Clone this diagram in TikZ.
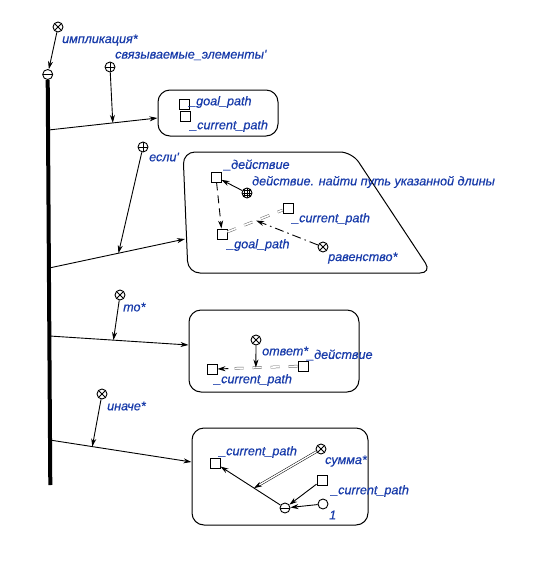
\documentclass[tikz,border=0pt]{standalone}
\usepackage{fontspec}
\setmainfont{Liberation Sans}
\newfontfamily\labelfont{Liberation Sans}[FakeBold=0.6]
\usetikzlibrary{arrows.meta,calc}
\definecolor{labelblue}{RGB}{25,60,170}
\definecolor{edgegray}{RGB}{100,100,100}
\begin{document}
\begin{tikzpicture}[x=1pt,y=-1pt,
  every node/.style={inner sep=0pt},
  lbl/.style={anchor=west, text=labelblue, font=\labelfont\fontsize{12.6}{14}\selectfont\itshape},
  vtx/.style={circle, draw, line width=0.9pt, minimum size=10pt},
  xvtx/.style={vtx, path picture={
      \draw[line width=0.8pt] (path picture bounding box.north west) -- (path picture bounding box.south east)
                              (path picture bounding box.north east) -- (path picture bounding box.south west);}},
  pvtx/.style={vtx, path picture={
      \draw[line width=0.8pt] (path picture bounding box.north) -- (path picture bounding box.south)
                              (path picture bounding box.west) -- (path picture bounding box.east);}},
  mvtx/.style={vtx, path picture={
      \draw[line width=0.8pt] (path picture bounding box.west) -- (path picture bounding box.east);}},
  gvtx/.style={vtx, path picture={
      \foreach \d in {-2.7,0,2.7}{
        \draw[line width=0.6pt] ([xshift=\d pt]path picture bounding box.north) -- ([xshift=\d pt]path picture bounding box.south);
        \draw[line width=0.6pt] ([yshift=\d pt]path picture bounding box.west) -- ([yshift=\d pt]path picture bounding box.east);}}},
  cvtx/.style={vtx},
  sq/.style={rectangle, draw, line width=0.9pt, minimum size=10pt},
  box/.style={draw, line width=1pt, rounded corners=12pt},
  tip/.style={-{Stealth[length=8pt,width=5pt,inset=2.5pt]}},
  arr/.style={line width=0.9pt, tip},
  varr/.style={arr, dash pattern=on 8pt off 5pt},
  vvarr/.style={arr, dash pattern=on 9pt off 4pt on 1.5pt off 4pt},
  dbl/.style={draw=edgegray, line width=0.5pt, double=white, double distance=1.6pt, dash pattern=on 9pt off 9pt},
  sdbl/.style={draw=black, line width=0.5pt, double=white, double distance=1.4pt},
]
\useasboundingbox (0,0) rectangle (542,563);

% ---- implication and its main bar
\node[xvtx] (imp) at (58,27) {};
\node[lbl] (impL) at (62,40) {импликация*};
\node[mvtx] (bar) at (47.7,74.5) {};
\draw[arr] (imp) -- (bar);
\coordinate (barEnd) at (50.3,485);
\draw[line width=4pt] (bar.south) -- (barEnd);

\coordinate (b1) at (48.5,130);
\coordinate (b2) at (49.2,268);
\coordinate (b3) at (49.5,336);
\coordinate (b4) at (49.8,440);

% ---- bound elements
\node[box, minimum width=120pt, minimum height=46pt] (box1) at (218,113) {};
\node[sq] (g1) at (184.5,104) {};
\node[sq] (c1) at (185.5,116) {};
\node[lbl] (g1L) at (189,102) {\_goal\_path};
\node[lbl] (c1L) at (190,126) {\_current\_path};
\path (b1) -- ($(box1.west)+(0,5)$) coordinate[pos=0.59] (m1);
\draw[arr] (b1) -- ($(box1.west)+(0,5)$);
\node[pvtx] (rel1) at (110,67) {};
\node[lbl] (rel1L) at (115,55) {связываемые\_элементы'};
\draw[arr] (rel1) -- (m1);

% ---- condition
\draw[box] (183,152) -- (352,152) -- (432,273) -- (188,273) -- cycle;
\coordinate (box2w) at (185,239);
\path (b2) -- (box2w) coordinate[pos=0.51] (m2);
\draw[arr] (b2) -- (box2w);
\node[pvtx] (rel2) at (143,147) {};
\node[lbl] (rel2L) at (149,157) {если'};
\draw[arr] (rel2) -- (m2);

\node[sq] (sqD) at (216,177) {};
\node[lbl] (sqDL) at (224,165) {\_действие};
\node[gvtx] (cls) at (247,193) {};
\node[lbl] (clsL) at (252,182) {действие. найти путь указанной длины};
\draw[arr] (cls) -- (sqD);
\node[sq] (sqG) at (222,234) {};
\node[lbl] (sqGL) at (227,245) {\_goal\_path};
\draw[varr] (sqD) -- (sqG);
\node[sq] (sqC) at (288,208) {};
\node[lbl] (sqCL) at (292,219) {\_current\_path};
\draw[dbl] (sqG) -- (sqC) coordinate[pos=0.52] (eqm);
\node[xvtx] (eq) at (323,247) {};
\node[lbl] (eqL) at (328,258) {равенство*};
\draw[vvarr] (eq) -- (eqm);

% ---- then
\node[box, minimum width=170pt, minimum height=82pt] (box3) at (274,351) {};
\path (b3) -- ($(box3.west)+(0,-6)$) coordinate[pos=0.46] (m3);
\draw[arr] (b3) -- ($(box3.west)+(0,-6)$);
\node[xvtx] (then) at (120,295) {};
\node[lbl] (thenL) at (123,307) {то*};
\draw[arr] (then) -- (m3);

\node[sq] (sqL) at (212,369) {};
\node[lbl] (sqLL) at (214,380) {\_current\_path};
\node[sq] (sqR) at (303,366) {};
\node[lbl] (sqRL) at (307,355) {\_действие};
\coordinate (tipStart) at ($(sqL.east)!11pt!(sqR.west)$);
\coordinate (dblEnd) at ($(sqL.east)!15pt!(sqR.west)$);
\draw[dbl] (sqR) -- (dblEnd);
\draw[arr] (tipStart) -- (sqL.east);
\path (sqR) -- (sqL) coordinate[pos=0.52] (ansm);
\node[xvtx] (ans) at (256,340) {};
\node[lbl] (ansL) at (262,351) {ответ*};
\draw[arr] (ans) -- (ansm);

% ---- else
\node[box, minimum width=176pt, minimum height=97pt] (box4) at (280,476.5) {};
\path (b4) -- ($(box4.west)+(0,-14.5)$) coordinate[pos=0.30] (m4);
\draw[arr] (b4) -- ($(box4.west)+(0,-14.5)$);
\node[xvtx] (els) at (102,394) {};
\node[lbl] (elsL) at (107,406) {иначе*};
\draw[arr] (els) -- (m4);

\node[sq] (sqP) at (215,463) {};
\node[lbl] (sqPL) at (219,452) {\_current\_path};
\node[xvtx] (sum) at (321,449) {};
\node[lbl] (sumL) at (325,461) {сумма*};
\node[sq] (sqQ) at (322,480) {};
\node[lbl] (sqQL) at (331,491) {\_current\_path};
\node[mvtx] (res) at (285,508) {};
\node[cvtx] (one) at (323,504) {};
\node[lbl] (oneL) at (329,515) {1};
\draw[arr] (res) -- (sqP) coordinate[pos=0.44] (summ);
\draw[arr] (sqQ) -- (res);
\draw[arr] (one) -- (res);
\draw[sdbl, tip] (sum) -- (summ);
\end{tikzpicture}
\end{document}
